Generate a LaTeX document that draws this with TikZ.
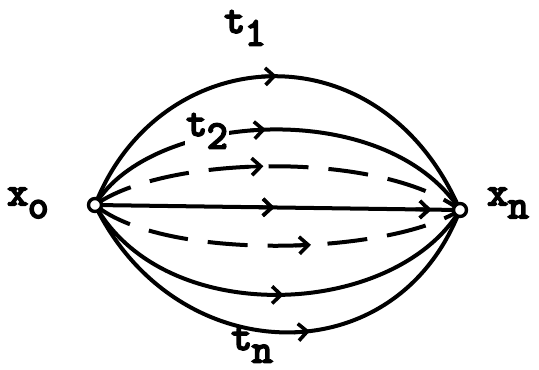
\documentclass[tikz,border=0pt]{standalone}
\usepackage{fontspec}
\newfontfamily\twfont{Latin Modern Mono}[FakeBold=5]
\usetikzlibrary{arrows.meta,decorations.markings}
\newcommand{\lbl}[2]{\twfont #1\raisebox{-0.32em}{#2}}
\tikzset{
  curve/.style={line width=4pt},
  dcurve/.style={line width=4pt,dash pattern=on 40pt off 20pt},
  midarrow/.style={postaction={decorate},decoration={markings,
    mark=at position #1 with {\draw[solid,line width=3.6pt,-{Straight Barb[length=9pt,width=17pt,line width=3.6pt]}] (-8pt,0)--(8pt,0);}}},
  endpt/.style={circle,draw,line width=3.4pt,fill=white,inner sep=0pt,minimum size=13pt},
  lab/.style={font=\fontsize{40}{42}\selectfont,inner sep=1pt},
}
\begin{document}
\begin{tikzpicture}[x=1pt,y=-1pt]
\useasboundingbox (0,0) rectangle (539,370);
\coordinate (A) at (95,205);
\coordinate (B) at (460,210);
% top curve t1
\draw[curve,midarrow=0.48] (A) .. controls (160,40) and (380,25) .. (B);
% t2 curve
\draw[curve,midarrow=0.45] (A) .. controls (150,112) and (385,95) .. (B);
% upper dashed
\draw[dcurve,midarrow=0.44] (A) .. controls (165,155) and (380,150) .. (B);
% straight line
\draw[curve,midarrow=0.47,midarrow=0.9] (A) -- (B);
% lower dashed
\draw[dcurve,midarrow=0.57] (A) .. controls (165,262) and (390,255) .. (B);
% lower solid
\draw[curve,midarrow=0.5] (A) .. controls (165,330) and (395,318) .. (B);
% bottom curve tn
\draw[curve,midarrow=0.55] (A) .. controls (175,370) and (395,378) .. (B);
% end points
\node[endpt] (xo) at (A) {};
\node[endpt] (xn) at (B) {};
% labels
\node[lab] (t1) at (245,28) {\lbl{t}{1}};
\node[lab,fill=white] (t2) at (207,131) {\lbl{t}{2}};
\node[lab] (tn) at (252,345) {\lbl{t}{n}};
\node[lab] (lxo) at (28,203) {\lbl{x}{o}};
\node[lab] (lxn) at (508,203) {\lbl{x}{n}};
\end{tikzpicture}
\end{document}
